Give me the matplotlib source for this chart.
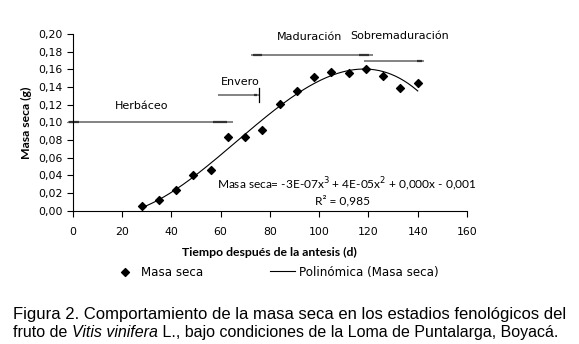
import numpy as np
import matplotlib
matplotlib.use("Agg")
import matplotlib.pyplot as plt

# Datos: masa seca del fruto (g) según días después de antesis
dias = [28, 35, 42, 49, 56, 63, 70, 77, 84, 91, 98, 105, 112, 119, 126, 133, 140]
masa_seca = [0.005, 0.012, 0.023, 0.040, 0.046, 0.083, 0.083, 0.091, 0.121,
             0.136, 0.151, 0.157, 0.156, 0.161, 0.153, 0.139, 0.145]

# Estadios fenológicos: nombre, inicio, fin, nivel, posición del texto
estadios = ['Herbáceo', 'Envero', 'Maduración', 'Sobremaduración']
inicio = [-2, 59, 72.5, 118]
fin = [65, 75.5, 122, 142.5]
nivel = [0.100, 0.131, 0.176, 0.169]
texto_x = [28, 68, 96, 132.5]
texto_y = [0.119, 0.146, 0.197, 0.198]

xticks = [0, 20, 40, 60, 80, 100, 120, 140, 160]
yticks = [0.00, 0.02, 0.04, 0.06, 0.08, 0.10, 0.12, 0.14, 0.16, 0.18, 0.20]

fig = plt.figure(figsize=(5.79, 3.44), dpi=100)
ax = fig.add_axes([0.1256, 0.3875, 0.681, 0.5135])

ax.scatter(dias, masa_seca, marker='D', s=16, color='black', zorder=3, label='Masa seca')

# Línea de tendencia polinómica de grado 3 (como Excel)
coef = np.polyfit(dias, masa_seca, 3)
xs = np.linspace(min(dias), max(dias), 200)
ax.plot(xs, np.polyval(coef, xs), color='black', lw=0.8, label='Polinómica (Masa seca)')

# Barras de estadios
for nombre, a, b, y, tx, ty in zip(estadios, inicio, fin, nivel, texto_x, texto_y):
    ax.plot([a, b], [y, y], color='#7a7a7a', lw=1.3, clip_on=False, solid_capstyle='butt')
    largo = (b - a) * 0.12
    ax.plot([b - largo, b - largo * 0.3], [y, y], color='#333333', lw=1.6, clip_on=False,
            solid_capstyle='butt')
    if nombre in ('Herbáceo', 'Maduración'):
        ax.plot([a + 0.5, a + 4.5], [y, y], color='#333333', lw=1.6, clip_on=False,
                solid_capstyle='butt')
    ax.text(tx, ty, nombre, ha='center', va='center', fontsize=8, family='DejaVu Sans')
ax.plot([75.5, 75.5], [0.123, 0.139], color='black', lw=0.9)

ax.text(111, 0.030, 'Masa seca= -3E-07x$^3$ + 4E-05x$^2$ + 0,000x - 0,001',
        ha='center', va='center', fontsize=8.6, family='Lato')
ax.text(109.3, 0.0113, 'R² = 0,985', ha='center', va='center', fontsize=8.6, family='Lato')

ax.set_xlim(0, 160)
ax.set_ylim(0, 0.20)
ax.set_xticks(xticks)
ax.set_yticks(yticks)
ax.set_yticklabels([('%.2f' % v).replace('.', ',') for v in yticks])
ax.tick_params(direction='out', length=4, width=0.8, labelsize=7.8, colors='black')
ax.tick_params(axis='x', pad=8)
for s in ['top', 'right']:
    ax.spines[s].set_visible(False)
for s in ['left', 'bottom']:
    ax.spines[s].set_linewidth(0.8)

ax.set_xlabel('Tiempo después de la antesis (d)', family='Lato', weight='bold',
              fontsize=8.8, labelpad=7)
ax.set_ylabel('Masa seca (g)', family='Lato', weight='bold', fontsize=8.8, labelpad=4)

fig.legend(loc='center', bbox_to_anchor=(0.476, 0.209), ncol=2, frameon=False,
           fontsize=8.6, columnspacing=5.6, handlelength=2.1, handletextpad=0.3,
           scatterpoints=1)

# Pie de figura
fig.text(13 / 579, 1 - 319 / 344,
         'Figura 2. Comportamiento de la masa seca en los estadios fenológicos del',
         family='Liberation Sans', fontsize=12.0, va='baseline')
fig.canvas.draw()
r = fig.canvas.get_renderer()
x0 = 13 / 579
y2 = 1 - 337 / 344
partes = [('fruto de ', 'normal'), ('Vitis vinifera', 'italic'),
          (' L., bajo condiciones de la Loma de Puntalarga, Boyacá.', 'normal')]
for txt, estilo in partes:
    t = fig.text(x0, y2, txt, family='Liberation Sans', fontsize=11.5, style=estilo,
                 va='baseline')
    bb = t.get_window_extent(renderer=r)
    x0 = bb.x1 / fig.bbox.width

fig.savefig('out.png', dpi=100)
